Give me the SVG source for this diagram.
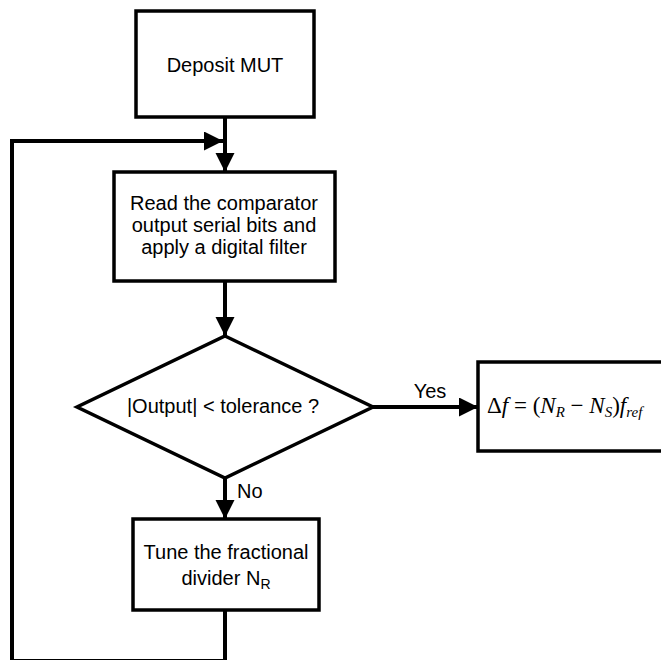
<svg xmlns="http://www.w3.org/2000/svg" width="661" height="660" viewBox="0 0 661 660">
<defs>
<style>
.box{fill:#fff;stroke:#000;stroke-width:3.5}
.con{fill:none;stroke:#000;stroke-width:4}
.t{font-family:"Liberation Sans",Arial,sans-serif;font-size:20px;fill:#000}
.m{font-family:"Liberation Serif","Times New Roman",serif;font-size:23px;fill:#000}
</style>
<marker id="ah" markerUnits="userSpaceOnUse" markerWidth="20" markerHeight="20" refX="19" refY="9.5" orient="auto" viewBox="0 0 20 20">
<path d="M0,0 L19,9.5 L0,19 z" fill="#000"/>
</marker>
</defs>
<rect width="661" height="660" fill="#fff"/>
<g id="connectors">
<line class="con" x1="225" y1="117" x2="225" y2="172" marker-end="url(#ah)"/>
<polyline class="con" points="225,610 225,661 12,661 12,141 223,141" marker-end="url(#ah)"/>
<line class="con" x1="225" y1="281" x2="225" y2="336" marker-end="url(#ah)"/>
<line class="con" x1="373" y1="407" x2="478" y2="407" marker-end="url(#ah)"/>
<line class="con" x1="225" y1="478" x2="225" y2="519" marker-end="url(#ah)"/>
<text class="t" x="430" y="398" text-anchor="middle">Yes</text>
<text class="t" x="237" y="498">No</text>
</g>
<g id="deposit">
<rect class="box" x="136" y="11" width="178" height="106"/>
<text class="t" x="225" y="72" text-anchor="middle">Deposit MUT</text>
</g>
<g id="read">
<rect class="box" x="114" y="172" width="221" height="109"/>
<text class="t" text-anchor="middle"><tspan x="224" y="210">Read the comparator</tspan><tspan x="224" y="232">output serial bits and</tspan><tspan x="224" y="254">apply a digital filter</tspan></text>
</g>
<g id="decision">
<polygon class="box" points="225,336 373,407 225,478 77,407"/>
<text class="t" x="223" y="413" text-anchor="middle">|Output| &lt; tolerance ?</text>
</g>
<g id="result">
<rect class="box" x="478" y="362" width="190" height="89"/>
<text class="m" x="487" y="413">Δ<tspan font-style="italic">f</tspan> = (<tspan font-style="italic">N</tspan><tspan font-style="italic" font-size="15" dy="4">R</tspan><tspan dy="-4"> − </tspan><tspan font-style="italic">N</tspan><tspan font-style="italic" font-size="15" dy="4">S</tspan><tspan dy="-4">)</tspan><tspan font-style="italic">f</tspan><tspan font-style="italic" font-size="15" dy="4">ref</tspan></text>
</g>
<g id="tune">
<rect class="box" x="133" y="519" width="186" height="91"/>
<text class="t" text-anchor="middle"><tspan x="226" y="559">Tune the fractional</tspan><tspan x="226" y="585">divider N<tspan font-size="14" dy="4">R</tspan></tspan></text>
</g>
</svg>
